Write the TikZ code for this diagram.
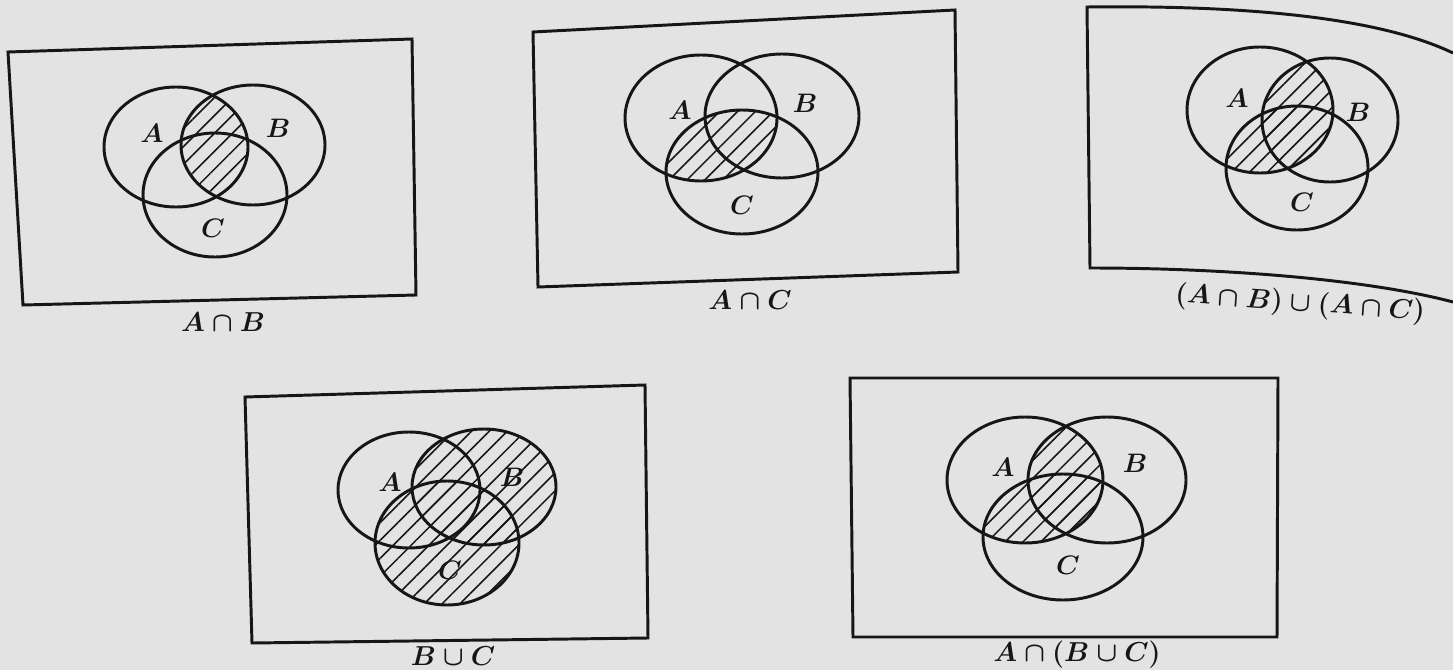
\documentclass[tikz,border=0pt]{standalone}
\usepackage{fix-cm}
\usepackage{xcolor}
\usetikzlibrary{patterns.meta}
\definecolor{PageGray}{HTML}{E3E3E3}
\definecolor{Ink}{HTML}{161616}
\tikzset{
  every picture/.style={line width=2.1pt},
  setcurve/.style={draw=Ink, line width=2.1pt},
  framebox/.style={draw=Ink, line width=2.1pt, line join=miter},
  hatchfill/.style={pattern={Lines[angle=45,distance=9pt,line width=1.1pt]}, pattern color=Ink},
  setlabel/.style={font=\fontsize{19}{22}\selectfont\boldmath, text=Ink, inner sep=0pt},
  caption/.style={font=\fontsize{19.5}{24}\selectfont\boldmath, text=Ink, inner sep=0pt}
}

\begin{document}
\begin{tikzpicture}[x=0.025cm, y=-0.025cm]
  \fill[PageGray] (0,0) rectangle (1453,670);
  \useasboundingbox (0,0) rectangle (1453,670);

  % A cap B
  \begin{scope}
    \clip (176,147) ellipse [x radius=72, y radius=60];
    \fill[hatchfill] (253,145) ellipse [x radius=72, y radius=60];
  \end{scope}
  \draw[setcurve] (176,147) ellipse [x radius=72, y radius=60];
  \draw[setcurve] (253,145) ellipse [x radius=72, y radius=60];
  \draw[setcurve] (215,195) ellipse [x radius=72, y radius=62];
  \draw[framebox] (8,52) -- (412,39) -- (416,295) -- (23,305) -- cycle;
  \node[setlabel] (a1) at (152,133) {$A$};
  \node[setlabel] (b1) at (278,128) {$B$};
  \node[setlabel] (c1) at (213,228) {$C$};
  \node[caption] (cap1) at (223,322) {$A \cap B$};

  % A cap C
  \begin{scope}
    \clip (701,118) ellipse [x radius=76, y radius=63];
    \fill[hatchfill] (742,172) ellipse [x radius=76, y radius=62];
  \end{scope}
  \draw[setcurve] (701,118) ellipse [x radius=76, y radius=63];
  \draw[setcurve] (782,116) ellipse [x radius=77, y radius=62];
  \draw[setcurve] (742,172) ellipse [x radius=76, y radius=62];
  \draw[framebox] (533,32) -- (955,10) -- (958,272) -- (538,287) -- cycle;
  \node[setlabel] (a2) at (680,110) {$A$};
  \node[setlabel] (b2) at (805,103) {$B$};
  \node[setlabel] (c2) at (742,205) {$C$};
  \node[caption] (cap2) at (750,300) {$A \cap C$};

  % (A cap B) cup (A cap C)
  \begin{scope}
    \clip (1260,110) ellipse [x radius=73, y radius=63];
    \fill[hatchfill] (1330,120) ellipse [x radius=68, y radius=62];
    \fill[hatchfill] (1297,168) ellipse [x radius=71, y radius=62];
  \end{scope}
  \draw[setcurve] (1260,110) ellipse [x radius=73, y radius=63];
  \draw[setcurve] (1330,120) ellipse [x radius=68, y radius=62];
  \draw[setcurve] (1297,168) ellipse [x radius=71, y radius=62];
  \draw[framebox] (1453,53) .. controls (1380,18) and (1250,5) .. (1087,7)
    -- (1090,268) .. controls (1230,268) and (1370,280) .. (1453,302);
  \node[setlabel] (a3) at (1237,98) {$A$};
  \node[setlabel] (b3) at (1358,112) {$B$};
  \node[setlabel] (c3) at (1302,202) {$C$};
  \node[caption, rotate=-4] (cap3) at (1300,304) {$(A \cap B) \cup (A \cap C)$};

  % B cup C
  \fill[hatchfill] (484,487) ellipse [x radius=72, y radius=58];
  \fill[hatchfill] (447,543) ellipse [x radius=72, y radius=62];
  \draw[setcurve] (409,490) ellipse [x radius=71, y radius=58];
  \draw[setcurve] (484,487) ellipse [x radius=72, y radius=58];
  \draw[setcurve] (447,543) ellipse [x radius=72, y radius=62];
  \draw[framebox] (245,397) -- (645,385) -- (648,638) -- (252,643) -- cycle;
  \node[setlabel] (a4) at (390,482) {$A$};
  \node[setlabel] (b4) at (512,477) {$B$};
  \node[setlabel] (c4) at (450,570) {$C$};
  \node[caption] (cap4) at (453,656) {$B \cup C$};

  % A cap (B cup C)
  \begin{scope}
    \clip (1025,480) ellipse [x radius=78, y radius=63];
    \fill[hatchfill] (1107,480) ellipse [x radius=79, y radius=63];
    \fill[hatchfill] (1063,537) ellipse [x radius=80, y radius=63];
  \end{scope}
  \draw[setcurve] (1025,480) ellipse [x radius=78, y radius=63];
  \draw[setcurve] (1107,480) ellipse [x radius=79, y radius=63];
  \draw[setcurve] (1063,537) ellipse [x radius=80, y radius=63];
  \draw[framebox] (850,378) -- (1278,378) -- (1277,637) -- (853,637) -- cycle;
  \node[setlabel] (a5) at (1003,467) {$A$};
  \node[setlabel] (b5) at (1135,463) {$B$};
  \node[setlabel] (c5) at (1068,565) {$C$};
  \node[caption] (cap5) at (1077,655) {$A \cap (B \cup C)$};
\end{tikzpicture}
\end{document}
